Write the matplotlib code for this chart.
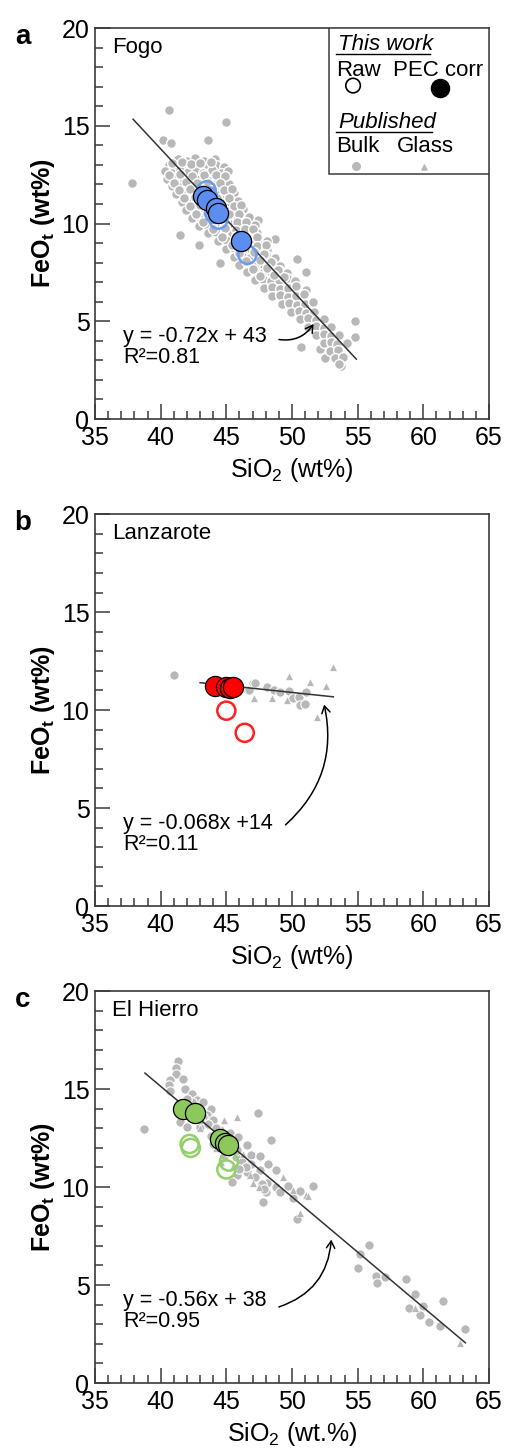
import numpy as np
import matplotlib.pyplot as plt
from matplotlib.patches import Rectangle
from matplotlib.ticker import MultipleLocator

plt.rcParams['font.family'] = ['Liberation Sans', 'DejaVu Sans']
plt.rcParams['mathtext.fontset'] = 'custom'
plt.rcParams['mathtext.rm'] = 'Liberation Sans'
plt.rcParams['mathtext.it'] = 'Liberation Sans:italic'
plt.rcParams['mathtext.bf'] = 'Liberation Sans:bold'

# ---- Fogo (panel a) ----
fogo_bulk = np.array([
    (37.8, 12.1), (40.6, 15.8), (45.0, 15.2), (40.2, 14.3), (40.8, 14.1), (43.6, 14.3),
    (41.5, 9.4), (42.9, 8.9), (44.5, 8.0), (47.4, 10.2), (48.7, 9.2), (50.4, 8.2),
    (51.1, 7.5), (51.1, 6.6), (50.6, 5.2), (50.7, 3.7), (52.1, 3.6), (52.5, 3.1),
    (54.8, 5.0), (54.8, 4.2), (53.7, 2.7), (54.2, 3.9),
    (41.3, 13.3), (42.0, 13.2), (42.6, 13.35), (43.3, 13.2), (44.1, 13.3),
    (40.6, 13.0), (41.1, 12.9), (41.7, 13.05), (42.3, 12.95), (42.9, 13.0), (43.5, 12.9), (44.2, 13.0), (44.8, 12.9),
    (40.3, 12.7), (40.9, 12.6), (41.5, 12.75), (42.1, 12.65), (42.7, 12.7), (43.2, 12.6), (43.9, 12.75), (44.6, 12.6), (45.1, 12.7),
    (40.5, 12.3), (41.2, 12.4), (41.8, 12.25), (42.4, 12.35), (43.0, 12.3), (43.7, 12.2), (44.3, 12.35), (44.9, 12.3),
    (40.9, 11.9), (41.5, 11.85), (42.1, 12.0), (42.7, 11.9), (43.4, 11.95), (44.0, 11.85), (44.6, 11.9), (45.2, 12.0),
    (41.2, 11.5), (41.9, 11.55), (42.5, 11.45), (43.1, 11.5), (43.8, 11.6), (44.4, 11.45), (45.0, 11.5), (45.6, 11.55),
    (41.6, 11.1), (42.2, 11.15), (42.8, 11.05), (43.4, 11.1), (44.1, 11.2), (44.7, 11.05), (45.3, 11.1), (45.9, 11.15),
    (41.9, 10.7), (42.6, 10.75), (43.2, 10.65), (43.8, 10.7), (44.4, 10.8), (45.0, 10.65), (45.7, 10.7), (46.3, 10.75),
    (42.4, 10.3), (43.0, 10.35), (43.6, 10.25), (44.2, 10.3), (44.9, 10.4), (45.5, 10.25), (46.1, 10.3), (46.7, 10.35),
    (42.9, 9.9), (43.5, 9.95), (44.1, 9.85), (44.8, 9.9), (45.4, 10.0), (46.0, 9.85), (46.6, 9.9), (47.2, 9.95),
    (43.6, 9.5), (44.2, 9.55), (44.8, 9.45), (45.4, 9.5), (46.0, 9.6), (46.7, 9.45), (47.3, 9.5),
    (44.4, 9.1), (45.0, 9.15), (45.6, 9.05), (46.2, 9.1), (46.9, 9.2), (47.5, 9.05), (48.1, 9.1),
    (45.0, 8.7), (45.6, 8.75), (46.3, 8.65), (46.9, 8.7), (47.5, 8.8), (48.1, 8.65),
    (45.6, 8.3), (46.2, 8.35), (46.8, 8.25), (47.4, 8.3), (48.0, 8.4), (48.7, 8.25),
    (46.0, 7.9), (46.7, 7.95), (47.3, 7.85), (47.9, 7.9), (48.5, 8.0), (49.1, 7.85),
    (46.6, 7.5), (47.2, 7.55), (47.8, 7.45), (48.4, 7.5), (49.0, 7.6), (49.6, 7.45),
    (47.2, 7.1), (47.8, 7.15), (48.4, 7.05), (49.0, 7.1), (49.6, 7.2), (50.2, 7.05),
    (47.9, 6.7), (48.5, 6.75), (49.1, 6.65), (49.7, 6.7), (50.3, 6.8),
    (48.5, 6.3), (49.1, 6.35), (49.7, 6.25), (50.3, 6.3), (50.9, 6.4),
    (49.2, 5.9), (49.8, 5.95), (50.4, 5.85), (51.0, 5.9), (51.6, 6.0),
    (49.9, 5.5), (50.5, 5.55), (51.1, 5.45), (51.7, 5.5),
    (50.6, 5.1), (51.2, 5.15), (51.8, 5.05), (52.4, 5.1),
    (51.2, 4.7), (51.8, 4.75), (52.4, 4.65), (53.0, 4.7),
    (51.8, 4.3), (52.4, 4.35), (53.0, 4.25), (53.6, 4.3),
    (52.4, 3.9), (53.0, 3.95), (53.4, 3.85),
    (52.9, 3.5), (53.5, 3.55), (53.3, 3.1), (53.9, 3.15), (53.6, 2.8),
    # denser core, offset rows
    (40.9, 13.1), (41.6, 13.15), (42.3, 13.05), (43.0, 13.1), (43.8, 13.15),
    (40.6, 12.5), (41.5, 12.55), (42.4, 12.45), (43.3, 12.5), (44.2, 12.5), (44.9, 12.45),
    (41.0, 12.1), (41.9, 12.15), (42.8, 12.05), (43.6, 12.1), (44.5, 12.1),
    (41.4, 11.7), (42.2, 11.75), (43.1, 11.65), (43.9, 11.7), (44.8, 11.7), (45.4, 11.75),
    (41.8, 11.3), (42.6, 11.35), (43.5, 11.25), (44.3, 11.3), (45.2, 11.3),
    (42.2, 10.9), (43.0, 10.95), (43.9, 10.85), (44.7, 10.9), (45.6, 10.9), (46.1, 10.95),
    (42.7, 10.5), (43.5, 10.55), (44.3, 10.45), (45.2, 10.5), (46.0, 10.5),
    (43.2, 10.1), (44.0, 10.15), (44.9, 10.05), (45.8, 10.1), (46.5, 10.1),
    (44.0, 9.7), (44.9, 9.75), (45.7, 9.65), (46.4, 9.7), (47.0, 9.7),
    (44.7, 9.3), (45.7, 9.35), (46.6, 9.25), (47.3, 9.3),
    (45.4, 8.9), (46.5, 8.95), (47.3, 8.85), (48.0, 8.9),
    (46.0, 8.5), (47.1, 8.55), (47.9, 8.45),
    (46.5, 8.1), (47.6, 8.15), (48.4, 8.05),
    (47.0, 7.7), (48.1, 7.75), (48.9, 7.65),
    (47.6, 7.3), (48.6, 7.35), (49.4, 7.25),
])
fogo_raw_sio2 = [43.5, 43.6, 44.1, 44.4, 46.6]
fogo_raw_feo = [11.7, 11.4, 10.5, 10.2, 8.4]
fogo_pec_sio2 = [43.2, 43.5, 44.2, 44.4, 46.1]
fogo_pec_feo = [11.4, 11.2, 10.8, 10.55, 9.1]
fogo_fit = (-0.722, 42.7, 37.9, 54.9)  # slope, intercept, x start, x end

# ---- Lanzarote (panel b) ----
lanz_bulk_sio2 = [41.0, 46.55, 46.7, 47.05, 47.2, 48.1, 48.6, 49.1, 49.8, 50.1, 50.5, 50.6, 51.0, 51.1]
lanz_bulk_feo = [11.8, 11.05, 11.05, 11.39, 11.4, 11.2, 11.02, 10.93, 10.98, 10.6, 10.68, 10.25, 10.3, 10.93]
lanz_glass_sio2 = [47.1, 48.5, 49.6, 49.8, 51.4, 51.9, 52.6, 53.1]
lanz_glass_feo = [10.6, 10.62, 10.54, 11.73, 11.44, 9.67, 11.21, 12.2]
lanz_raw_sio2 = [45.0, 46.4]
lanz_raw_feo = [9.97, 8.84]
lanz_pec_sio2 = [44.1, 45.0, 45.3, 45.5]
lanz_pec_feo = [11.25, 11.2, 11.15, 11.2]
lanz_fit = (-0.071, 14.45, 43.0, 53.15)

# ---- El Hierro (panel c) ----
hier_bulk = np.array([
    (41.35, 16.44), (41.2, 16.06), (41.2, 15.77), (40.7, 15.46), (41.7, 15.5), (40.6, 15.2),
    (40.7, 14.9), (41.85, 14.98), (42.4, 14.74), (42.75, 14.44), (42.4, 14.35), (43.25, 14.35),
    (43.8, 14.0), (43.5, 13.67), (44.0, 13.4), (38.7, 12.94), (47.4, 13.76), (41.5, 13.3),
    (42.0, 13.08), (43.0, 13.08), (44.5, 12.9), (45.3, 12.74), (45.9, 12.57), (48.4, 12.4),
    (46.55, 12.14), (46.9, 11.63), (47.6, 11.58), (45.7, 11.55), (46.9, 11.2), (48.2, 11.2),
    (47.6, 10.87), (45.8, 10.6), (46.55, 10.78), (48.8, 10.87), (48.1, 10.19), (45.4, 10.27),
    (48.8, 10.02), (48.0, 9.76), (49.7, 10.05), (50.6, 9.76), (51.6, 10.05), (47.8, 9.25),
    (50.1, 9.42), (50.4, 8.35), (47.7, 10.15), (47.9, 9.88), (49.1, 9.76), (50.6, 9.81),
    (55.9, 7.02), (55.2, 6.58), (55.0, 5.85), (56.4, 5.46), (56.5, 5.12), (57.1, 5.39),
    (58.7, 5.29), (59.4, 4.54), (60.0, 3.93), (58.9, 3.81), (59.75, 3.47), (61.5, 4.17),
    (60.4, 3.13), (61.3, 2.91), (63.2, 2.74),
    (42.0, 14.5), (42.8, 14.0), (43.2, 13.6), (43.6, 13.2), (44.2, 13.0), (44.6, 12.6),
    (45.0, 12.4), (45.4, 12.0), (45.8, 11.9), (46.2, 11.3), (44.0, 12.2), (43.0, 13.4),
    (42.2, 13.9), (41.6, 14.3), (44.8, 11.6), (46.5, 11.0), (47.2, 10.5), (46.0, 10.9),
    (45.2, 11.8), (43.8, 12.6),
])
hier_glass_sio2 = [45.8, 44.8, 46.3, 49.3, 47.06, 50.1, 51.1, 51.2, 50.6, 59.4, 62.8,
                   43.0, 44.2, 45.5, 46.8, 47.5, 44.6]
hier_glass_feo = [13.6, 13.4, 11.7, 10.5, 10.19, 9.85, 9.6, 9.54, 8.66, 3.81, 2.06,
                  13.0, 12.0, 11.1, 10.6, 10.0, 11.3]
hier_raw_sio2 = [42.2, 42.3, 45.2, 45.0]
hier_raw_feo = [12.2, 12.0, 11.3, 10.9]
hier_pec_sio2 = [41.7, 42.6, 44.5, 44.9, 45.1]
hier_pec_feo = [14.0, 13.8, 12.45, 12.25, 12.15]
hier_fit = (-0.564, 37.7, 38.8, 63.2)

gray = '#b8b8b8'
spine_col = '#3a3a3a'

fig = plt.figure(figsize=(5.07, 14.56), dpi=100)
ax_a = fig.add_axes([0.1874, 0.7122, 0.7771, 0.2685])
ax_b = fig.add_axes([0.1874, 0.3777, 0.7771, 0.2692])
ax_c = fig.add_axes([0.1874, 0.0501, 0.7771, 0.2692])


def setup(ax, xlab):
    ax.set_xlim(35, 65)
    ax.set_ylim(0, 20)
    ax.xaxis.set_major_locator(MultipleLocator(5))
    ax.xaxis.set_minor_locator(MultipleLocator(1))
    ax.yaxis.set_major_locator(MultipleLocator(5))
    ax.yaxis.set_minor_locator(MultipleLocator(1))
    ax.tick_params(which='both', direction='in', top=False, right=False,
                   color=spine_col, width=1.1, labelsize=18)
    ax.tick_params(axis='x', pad=5)
    ax.tick_params(axis='y', pad=4)
    ax.tick_params(which='major', length=11)
    ax.tick_params(which='minor', length=5.5)
    for s in ax.spines.values():
        s.set_color(spine_col)
        s.set_linewidth(1.2)
    ax.set_xlabel(xlab, fontsize=18, labelpad=4)
    ax.set_ylabel(r'FeO$_\mathbf{t}$ (wt%)', fontsize=18, fontweight='bold', labelpad=3)


def fit_line(ax, fit):
    slope, icpt, x0, x1 = fit
    xs = np.array([x0, x1])
    ax.plot(xs, slope * xs + icpt, color='#333333', lw=1.1, zorder=2)


def equation(ax, eq, r2, start, end, rad):
    ax.text(0.071, 0.210, eq, transform=ax.transAxes, fontsize=15.5, va='center', ha='left')
    ax.text(0.071, 0.158, r2, transform=ax.transAxes, fontsize=15.5, va='center', ha='left')
    ax.annotate('', xy=end, xytext=start,
                arrowprops=dict(arrowstyle='->,head_length=0.5,head_width=0.3',
                                connectionstyle=f'arc3,rad={rad}', color='black', lw=1.1))


# panel a
setup(ax_a, r'SiO$_2$ (wt%)')
ax_a.scatter(fogo_bulk[:, 0], fogo_bulk[:, 1], s=50, c=gray, edgecolors='white', linewidths=1.0, zorder=1)
fit_line(ax_a, fogo_fit)
ax_a.scatter(fogo_raw_sio2, fogo_raw_feo, s=170, facecolors='none', edgecolors='#6b9cf4', linewidths=1.8, zorder=3)
ax_a.scatter(fogo_pec_sio2, fogo_pec_feo, s=210, c='#5b8ef0', edgecolors='black', linewidths=0.9, zorder=4)
ax_a.text(0.043, 0.951, 'Fogo', transform=ax_a.transAxes, fontsize=16, va='center')
equation(ax_a, 'y = -0.72x + 43', 'R²=0.81', (48.8, 4.09), (51.75, 4.98), 0.35)

# legend box
ax_a.add_patch(Rectangle((0.594, 0.627), 0.406, 0.373, transform=ax_a.transAxes,
                         facecolor='white', edgecolor=spine_col, lw=1.1, zorder=5))
ax_a.text(0.617, 0.944, 'This work', style='italic', fontsize=16, transform=ax_a.transAxes, va='baseline', zorder=6)
ax_a.plot([0.612, 0.850], [0.933, 0.933], color='black', lw=1, transform=ax_a.transAxes, zorder=6)
ax_a.text(0.612, 0.878, 'Raw', fontsize=16, transform=ax_a.transAxes, va='baseline', zorder=6)
ax_a.text(0.756, 0.878, 'PEC corr', fontsize=16, transform=ax_a.transAxes, va='baseline', zorder=6)
ax_a.scatter([0.655], [0.853], s=110, facecolors='none', edgecolors='black', linewidths=1.2,
             transform=ax_a.transAxes, zorder=6, clip_on=False)
ax_a.scatter([0.876], [0.847], s=170, c='black', transform=ax_a.transAxes, zorder=6, clip_on=False)
ax_a.text(0.617, 0.744, 'Published', style='italic', fontsize=16, transform=ax_a.transAxes, va='baseline', zorder=6)
ax_a.plot([0.612, 0.855], [0.733, 0.733], color='black', lw=1, transform=ax_a.transAxes, zorder=6)
ax_a.text(0.612, 0.683, 'Bulk', fontsize=16, transform=ax_a.transAxes, va='baseline', zorder=6)
ax_a.text(0.766, 0.683, 'Glass', fontsize=16, transform=ax_a.transAxes, va='baseline', zorder=6)
ax_a.scatter([0.662], [0.647], s=30, c=gray, transform=ax_a.transAxes, zorder=6)
ax_a.scatter([0.835], [0.645], s=14, c=gray, marker='^', transform=ax_a.transAxes, zorder=6)

# panel b
setup(ax_b, r'SiO$_2$ (wt%)')
ax_b.scatter(lanz_bulk_sio2, lanz_bulk_feo, s=46, c=gray, edgecolors='white', linewidths=0.8, zorder=1)
ax_b.scatter(lanz_glass_sio2, lanz_glass_feo, s=30, c=gray, marker='^', edgecolors='white', linewidths=0.4, zorder=1)
fit_line(ax_b, lanz_fit)
ax_b.scatter(lanz_raw_sio2, lanz_raw_feo, s=170, facecolors='none', edgecolors='#ff2020', linewidths=1.8, zorder=3)
ax_b.scatter(lanz_pec_sio2, lanz_pec_feo, s=210, c='#ff0000', edgecolors='black', linewidths=0.9, zorder=4)
ax_b.text(0.043, 0.951, 'Lanzarote', transform=ax_b.transAxes, fontsize=16, va='center')
equation(ax_b, 'y = -0.068x +14', 'R²=0.11', (49.35, 4.05), (52.4, 10.42), 0.3)

# panel c
setup(ax_c, r'SiO$_2$ (wt.%)')
ax_c.scatter(hier_bulk[:, 0], hier_bulk[:, 1], s=46, c=gray, edgecolors='white', linewidths=0.8, zorder=1)
ax_c.scatter(hier_glass_sio2, hier_glass_feo, s=30, c=gray, marker='^', edgecolors='white', linewidths=0.4, zorder=1)
fit_line(ax_c, hier_fit)
ax_c.scatter(hier_raw_sio2, hier_raw_feo, s=170, facecolors='none', edgecolors='#92d068', linewidths=1.8, zorder=3)
ax_c.scatter(hier_pec_sio2, hier_pec_feo, s=210, c='#8cc85a', edgecolors='black', linewidths=0.9, zorder=4)
ax_c.text(0.043, 0.951, 'El Hierro', transform=ax_c.transAxes, fontsize=16, va='center')
equation(ax_c, 'y = -0.56x + 38', 'R²=0.95', (48.8, 3.84), (53.0, 7.46), 0.35)

for lab, yy in [('a', 0.9746), ('b', 0.6408), ('c', 0.3132)]:
    fig.text(0.045, yy, lab, fontsize=20, fontweight='bold', ha='center', va='center')

fig.savefig('out.png', dpi=100)
